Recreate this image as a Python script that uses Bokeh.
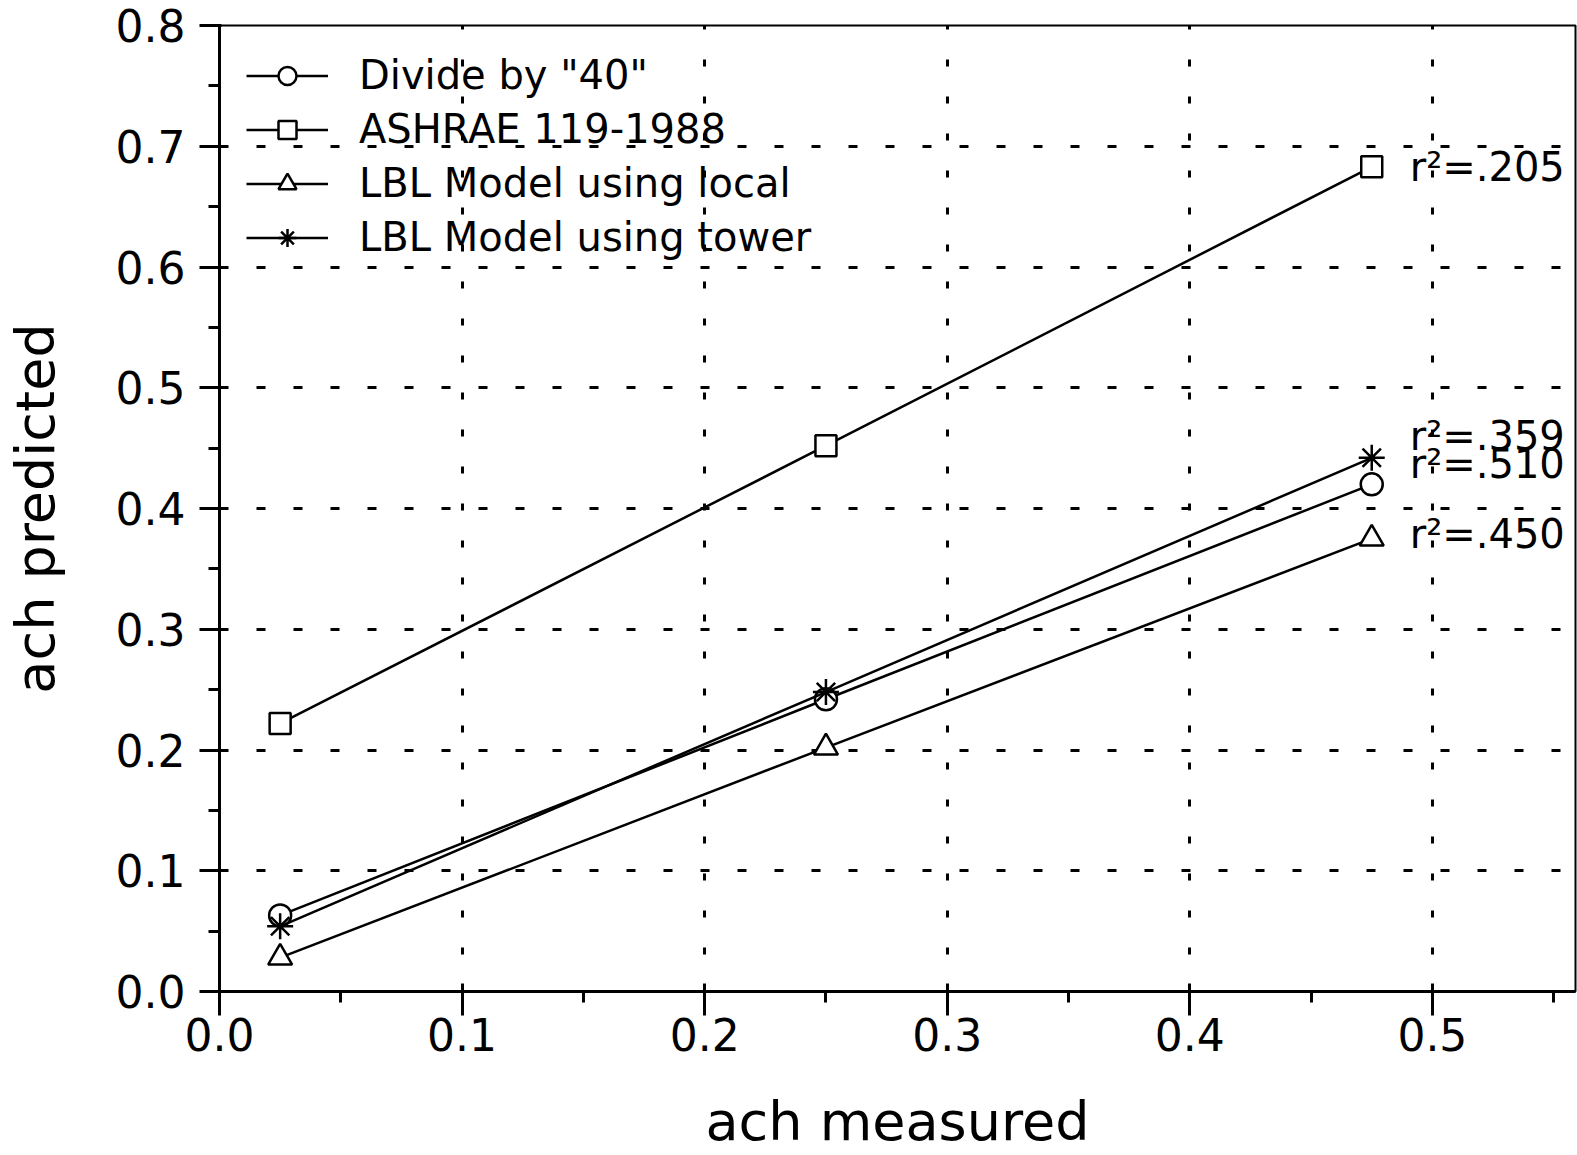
from bokeh.plotting import figure
from bokeh.models import Range1d, SingleIntervalTicker, NumeralTickFormatter, Legend, LegendItem
from bokeh.core.properties import value
from bokeh.embed import file_html
from bokeh.resources import INLINE

# ---- data ----
x_measured = [0.025, 0.25, 0.475]
divide_by_40 = [0.063, 0.242, 0.420]
ashrae = [0.222, 0.452, 0.683]
lbl_local = [0.028, 0.202, 0.375]
lbl_tower = [0.054, 0.248, 0.442]

series_names = ['Divide by "40"', "ASHRAE 119-1988", "LBL Model using local", "LBL Model using tower"]
r2_labels = ["r²=.510", "r²=.205", "r²=.450", "r²=.359"]

x_label = "ach measured"
y_label = "ach predicted"

# ---- styles ----
FONT = "DejaVu Sans"
markers = ["circle", "square", "triangle", "asterisk"]
marker_sizes = [22, 21, 24, 26]
label_dy = [-20, 0, -5, -22]   # pixel nudges for the r² labels

p = figure(width=1577, height=1155, output_backend="svg", toolbar_location=None,
           x_range=Range1d(0, 0.559), y_range=Range1d(0, 0.8),
           min_border_left=219, min_border_right=2, min_border_top=25, min_border_bottom=164)
p.background_fill_color = "white"
p.border_fill_color = "white"
p.outline_line_color = "black"
p.outline_line_width = 2

for ax in (p.xaxis[0], p.yaxis[0]):
    ax.ticker = SingleIntervalTicker(interval=0.1, num_minor_ticks=2)
    ax.formatter = NumeralTickFormatter(format="0.0")
    ax.axis_line_width = 3
    ax.axis_line_color = "black"
    ax.major_tick_line_width = 3
    ax.minor_tick_line_width = 3
    ax.major_tick_line_color = "black"
    ax.minor_tick_line_color = "black"
    ax.major_label_text_font = FONT
    ax.major_label_text_font_size = "44px"
    ax.major_label_text_color = "black"
    ax.axis_label_text_font = FONT
    ax.axis_label_text_font_size = "54px"
    ax.axis_label_text_font_style = "normal"
    ax.axis_label_text_color = "black"

p.xaxis.axis_label = x_label
p.yaxis.axis_label = y_label
p.xaxis.major_tick_out = 24
p.xaxis.major_tick_in = 8
p.xaxis.minor_tick_out = 11
p.xaxis.minor_tick_in = 0
p.xaxis.major_label_standoff = 2
p.xaxis.axis_label_standoff = 36
p.yaxis.major_tick_out = 20
p.yaxis.major_tick_in = 2
p.yaxis.minor_tick_out = 11
p.yaxis.minor_tick_in = 0
p.yaxis.major_label_standoff = 14
p.yaxis.axis_label_standoff = 46

p.xgrid.grid_line_color = "black"
p.xgrid.grid_line_width = 3
p.xgrid.grid_line_dash = "7 30"
p.ygrid.grid_line_color = "black"
p.ygrid.grid_line_width = 3
p.ygrid.grid_line_dash = "9 28"

all_series = [divide_by_40, ashrae, lbl_local, lbl_tower]
items = []
for name, ys, mk, ms, r2, dy in zip(series_names, all_series, markers, marker_sizes, r2_labels, label_dy):
    lr = p.line(x_measured, ys, line_color="black", line_width=2.5)
    sr = p.scatter(x_measured, ys, marker=mk, size=ms, line_color="black", line_width=2.5,
                   fill_color="white")
    items.append(LegendItem(label=name, renderers=[lr, sr]))
    p.text(x=[x_measured[-1]], y=[ys[-1]], text=[r2], x_offset=38, y_offset=dy,
           text_font=value(FONT), text_font_size=value("40px"), text_color="black",
           text_align="left", text_baseline="middle")

legend = Legend(items=items, location="top_left")
legend.margin = 5
legend.padding = 22
legend.spacing = 8
legend.glyph_width = 82
legend.glyph_height = 45
legend.label_height = 45
legend.label_standoff = 31
legend.label_text_font = FONT
legend.label_text_font_size = "40px"
legend.label_text_color = "black"
legend.background_fill_alpha = 0
legend.border_line_alpha = 0
p.add_layout(legend)

open("out.html", "w").write(file_html(p, INLINE))
